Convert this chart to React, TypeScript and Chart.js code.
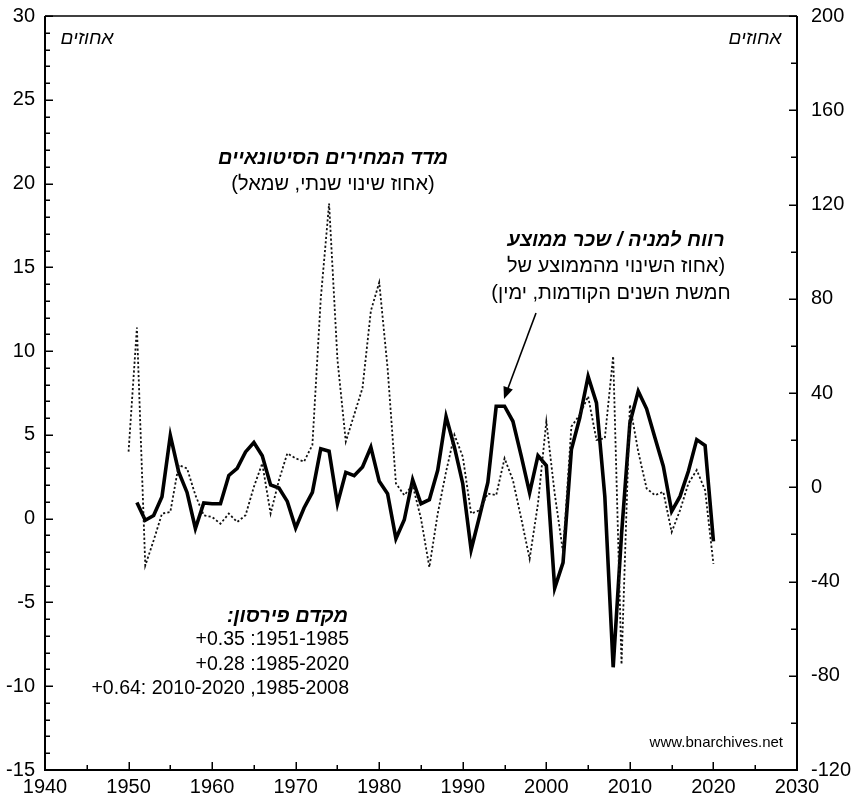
import React, { useEffect, useRef } from "react";
import { Chart, registerables } from "chart.js";

Chart.register(...registerables);

const FONT = "'Liberation Sans', Arial, 'DejaVu Sans', sans-serif";

// years on the x-axis
const years = [
  1950, 1951, 1952, 1953, 1954, 1955, 1956, 1957, 1958, 1959,
  1960, 1961, 1962, 1963, 1964, 1965, 1966, 1967, 1968, 1969,
  1970, 1971, 1972, 1973, 1974, 1975, 1976, 1977, 1978, 1979,
  1980, 1981, 1982, 1983, 1984, 1985, 1986, 1987, 1988, 1989,
  1990, 1991, 1992, 1993, 1994, 1995, 1996, 1997, 1998, 1999,
  2000, 2001, 2002, 2003, 2004, 2005, 2006, 2007, 2008, 2009,
  2010, 2011, 2012, 2013, 2014, 2015, 2016, 2017, 2018, 2019,
  2020,
];

// wholesale price index, annual % change (left axis)
const wholesalePrices = [
  4.0, 11.4, -2.8, -1.3, 0.3, 0.4, 3.2, 3.0, 1.4, 0.2,
  0.1, -0.3, 0.3, -0.2, 0.2, 1.9, 3.3, 0.3, 2.3, 3.9,
  3.6, 3.4, 4.4, 13.1, 18.8, 9.5, 4.6, 6.2, 7.8, 12.4,
  14.1, 9.0, 2.1, 1.4, 2.0, 0.0, -2.9, 0.3, 2.8, 5.0,
  3.7, 0.3, 0.5, 1.5, 1.4, 3.6, 2.3, 0.0, -2.4, 0.9,
  5.8, 1.5, -2.0, 5.5, 6.2, 7.3, 4.7, 4.8, 9.7, -8.7,
  6.8, 4.0, 1.8, 1.4, 1.6, -0.8, 0.5, 2.1, 2.9, 1.7,
  -2.7,
];

// earnings per share / average wage, % deviation from previous 5-yr average (right axis)
const earningsToWage = [
  null, -6.5, -14, -12, -4, 22, 6.5, -2.2, -17.5, -6.7,
  -7, -7, 5, 8, 15, 19, 13.4, 1, -0.3, -6,
  -17.3, -8.8, -2.2, 16.3, 15.3, -7, 6.3, 4.9, 8.6, 17,
  2.5, -2.7, -21.8, -13.8, 3.2, -7, -5.3, 7.2, 30, 17,
  1.5, -26.5, -12.4, 2, 34.4, 34.4, 28, 13.2, -2.4, 13.4,
  9.2, -42.8, -32, 16, 29.5, 47, 35.8, -3.9, -76.4, -20,
  27.3, 40.8, 33.3, 21, 8.9, -10.2, -3.9, 6.8, 20.2, 17.7,
  -23,
];

const xMin = 1940, xMax = 2030, xStep = 10, xMinorStep = 5;
const leftMin = -15, leftMax = 30, leftStep = 5, leftMinorStep = 1;
const rightMin = -120, rightMax = 200, rightStep = 40, rightMinorStep = 20;

const framePlugin = {
  id: "frameAndNotes",
  afterDatasetsDraw(chart: any) {
    const ctx = chart.ctx as CanvasRenderingContext2D;
    const { left, right, top, bottom } = chart.chartArea;
    const xs = chart.scales.x, yl = chart.scales.y, yr = chart.scales.y1;
    ctx.save();
    ctx.strokeStyle = "#000";
    ctx.lineWidth = 2;
    ctx.beginPath();
    ctx.moveTo(left, top);
    ctx.lineTo(left, bottom);
    ctx.lineTo(right, bottom);
    ctx.lineTo(right, top);
    ctx.stroke();
    ctx.lineWidth = 1.5;
    ctx.beginPath();
    ctx.moveTo(left, top);
    ctx.lineTo(right, top);
    ctx.stroke();
    ctx.lineWidth = 1.5;
    ctx.beginPath();
    for (let v = leftMin; v <= leftMax; v += leftMinorStep) {
      const y = Math.round(yl.getPixelForValue(v)) + 0.25;
      const len = v % leftStep === 0 ? 8 : 5;
      ctx.moveTo(left, y);
      ctx.lineTo(left + len, y);
    }
    for (let v = rightMin; v <= rightMax; v += rightMinorStep) {
      const y = Math.round(yr.getPixelForValue(v)) + 0.25;
      const len = v % rightStep === 0 ? 8 : 6;
      ctx.moveTo(right, y);
      ctx.lineTo(right - len, y);
    }
    for (let v = xMin; v <= xMax; v += xMinorStep) {
      const x = Math.round(xs.getPixelForValue(v)) + 0.25;
      const len = v % xStep === 0 ? 8 : 5;
      ctx.moveTo(x, bottom);
      ctx.lineTo(x, bottom - len);
    }
    ctx.stroke();
    ctx.restore();
  },
  afterDraw(chart: any) {
    const ctx = chart.ctx as CanvasRenderingContext2D;
    ctx.save();
    ctx.fillStyle = "#000";
    ctx.textBaseline = "middle";
    const txt = (s: string, x: number, y: number, font: string, align: CanvasTextAlign, dir: CanvasDirection = "rtl") => {
      ctx.font = font;
      (ctx as any).direction = dir;
      ctx.textAlign = align;
      ctx.fillText(s, x, y);
    };
    txt("אחוזים", 87, 39, `italic 19px ${FONT}`, "center");
    txt("אחוזים", 755, 39, `italic 19px ${FONT}`, "center");
    txt("מדד המחירים הסיטונאיים", 333, 158, `italic bold 20px ${FONT}`, "center");
    txt("(אחוז שינוי שנתי, שמאל)", 333, 184, `20px ${FONT}`, "center");
    txt("רווח למניה / שכר ממוצע", 616, 240, `italic bold 20px ${FONT}`, "center");
    txt("(אחוז השינוי מהממוצע של", 616, 266, `20px ${FONT}`, "center");
    txt("חמשת השנים הקודמות, ימין)", 611, 293, `20px ${FONT}`, "center");
    const x0 = 536, y0 = 313, x1 = 504, y1 = 399;
    ctx.strokeStyle = "#000";
    ctx.lineWidth = 1.6;
    ctx.beginPath();
    ctx.moveTo(x0, y0);
    const ang = Math.atan2(y1 - y0, x1 - x0);
    ctx.lineTo(x1 - 8 * Math.cos(ang), y1 - 8 * Math.sin(ang));
    ctx.stroke();
    ctx.beginPath();
    ctx.moveTo(x1, y1);
    ctx.lineTo(x1 - 12 * Math.cos(ang) + 5 * Math.sin(ang), y1 - 12 * Math.sin(ang) - 5 * Math.cos(ang));
    ctx.lineTo(x1 - 12 * Math.cos(ang) - 5 * Math.sin(ang), y1 - 12 * Math.sin(ang) + 5 * Math.cos(ang));
    ctx.closePath();
    ctx.fill();
    txt("מקדם פירסון:", 348, 616, `italic bold 20px ${FONT}`, "right");
    txt("+0.35 :1951-1985", 349, 640, `19.5px ${FONT}`, "right", "ltr");
    txt("+0.28 :1985-2020", 349, 665, `19.5px ${FONT}`, "right", "ltr");
    txt("+0.64: 2010-2020 ,1985-2008", 349, 689, `19.5px ${FONT}`, "right", "ltr");
    txt("www.bnarchives.net", 783, 743, `15px ${FONT}`, "right", "ltr");
    ctx.restore();
  },
};

export default function App() {
  const canvasRef = useRef<HTMLCanvasElement | null>(null);

  useEffect(() => {
    const canvas = canvasRef.current;
    if (!canvas) return;
    const tickFont = { family: FONT, size: 20 };
    const chart = new Chart(canvas, {
      type: "line",
      data: {
        datasets: [
          {
            label: "מדד המחירים הסיטונאיים",
            data: years.map((yr, i) => ({ x: yr, y: wholesalePrices[i] })),
            yAxisID: "y",
            borderColor: "#111",
            borderWidth: 1.8,
            borderDash: [2.2, 2.2],
            pointRadius: 0,
            tension: 0,
            fill: false,
          },
          {
            label: "רווח למניה / שכר ממוצע",
            data: years.map((yr, i) => ({ x: yr, y: earningsToWage[i] as any })),
            yAxisID: "y1",
            borderColor: "#000",
            borderWidth: 3.6,
            borderJoinStyle: "miter",
            pointRadius: 0,
            tension: 0,
            fill: false,
            spanGaps: false,
          },
        ],
      },
      options: {
        responsive: false,
        animation: false,
        events: [],
        layout: { padding: { top: 16, left: 0, right: 0, bottom: 0 } },
        plugins: {
          legend: { display: false },
          tooltip: { enabled: false },
          title: { display: false },
        },
        scales: {
          x: {
            type: "linear",
            min: xMin,
            max: xMax,
            grid: { display: false, drawTicks: false },
            border: { display: false },
            ticks: {
              stepSize: xStep,
              color: "#000",
              font: tickFont,
              padding: 5,
              maxRotation: 0,
              callback: (v: any) => String(v),
            },
            afterFit: (s: any) => { s.height = 34; s.paddingLeft = 0; s.paddingRight = 0; },
          },
          y: {
            type: "linear",
            position: "left",
            min: leftMin,
            max: leftMax,
            grid: { display: false, drawTicks: false },
            border: { display: false },
            ticks: { stepSize: leftStep, color: "#000", font: tickFont, padding: 10, callback: (v: any) => String(v) },
            afterFit: (s: any) => { s.width = 45; s.paddingTop = 0; s.paddingBottom = 0; },
          },
          y1: {
            type: "linear",
            position: "right",
            min: rightMin,
            max: rightMax,
            grid: { display: false, drawTicks: false },
            border: { display: false },
            ticks: { stepSize: rightStep, color: "#000", font: tickFont, padding: 14, callback: (v: any) => String(v) },
            afterFit: (s: any) => { s.width = 58; s.paddingTop = 0; s.paddingBottom = 0; },
          },
        },
      },
      plugins: [framePlugin],
    } as any);
    return () => chart.destroy();
  }, []);

  return (
    <div style={{ position: "absolute", left: 0, top: 0, width: 855, height: 804, background: "#fff" }}>
      <canvas ref={canvasRef} width={855} height={804} style={{ width: 855, height: 804, display: "block" }} />
    </div>
  );
}
